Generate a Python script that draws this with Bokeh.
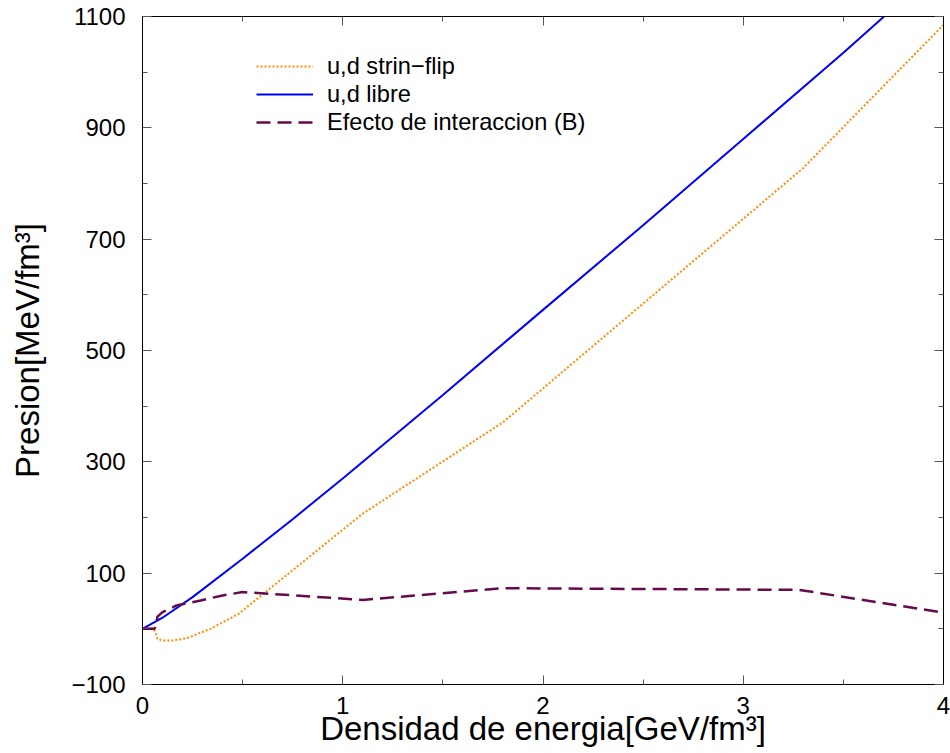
from bokeh.embed import file_html
from bokeh.models import FixedTicker, Legend, LegendItem, LinearAxis, Range1d
from bokeh.plotting import figure
from bokeh.resources import INLINE

# Equation of state: energy density [GeV/fm^3] vs pressure [MeV/fm^3]
flip_e = [0.0, 0.05, 0.06, 0.075, 0.10, 0.15, 0.22, 0.34, 0.48, 1.10, 1.80, 3.30, 4.00]
flip_p = [0.0, 1.0, -3.0, -18.0, -21.0, -21.0, -17.0, 0.0, 27.0, 207.0, 371.0, 828.0, 1085.0]

free_e = [0.0, 0.10, 0.25, 0.50, 0.75, 1.00, 1.50, 2.00, 2.50, 3.00, 3.50, 3.75]
free_p = [0.0, 20.0, 57.0, 126.0, 197.0, 270.0, 420.0, 573.0, 725.0, 880.0, 1035.0, 1115.0]

inter_e = [0.0, 0.06, 0.065, 0.075, 0.10, 0.17, 0.29, 0.40, 0.50, 1.10, 1.80, 3.28, 4.00]
inter_p = [0.0, 0.0, 5.0, 22.0, 30.0, 42.0, 51.0, 60.0, 66.0, 52.0, 73.0, 70.0, 29.0]

x_major = [0, 1, 2, 3, 4]
x_minor = [0.5, 1.5, 2.5, 3.5]
y_major = [-100, 100, 300, 500, 700, 900, 1100]
y_minor = [0, 200, 400, 600, 800, 1000]

names = ["u,d strin\u2212flip", "u,d libre", "Efecto de interaccion (B)"]
x_title = "Densidad de energia[GeV/fm\u00b3]"
y_title = "Presion[MeV/fm\u00b3]"

FONT = "Liberation Sans"

p = figure(
    width=950, height=753,
    x_range=Range1d(0, 4), y_range=Range1d(-100, 1100),
    output_backend="svg", toolbar_location=None,
    min_border_left=142, min_border_right=7,
    min_border_top=16, min_border_bottom=69,
)
p.grid.visible = False
p.outline_line_color = "black"
p.outline_line_width = 1
p.background_fill_color = "white"
p.border_fill_color = "white"


def style_axis(ax, ticks, minor, labelled):
    ax.ticker = FixedTicker(ticks=ticks, minor_ticks=minor)
    ax.major_tick_in = 9
    ax.major_tick_out = 0
    ax.minor_tick_in = 5
    ax.minor_tick_out = 0
    ax.major_tick_line_color = "#555555"
    ax.minor_tick_line_color = "#555555"
    ax.axis_line_color = "black"
    ax.major_label_text_font = FONT
    if labelled:
        ax.major_label_text_color = "black"
        ax.major_label_text_font_size = "24px"
        ax.axis_label_text_font = FONT
        ax.axis_label_text_font_size = "33px"
        ax.axis_label_text_font_style = "normal"
        ax.axis_label_text_color = "black"
    else:
        ax.major_label_text_color = None
        ax.major_label_text_font_size = "0px"
        ax.major_label_standoff = 0


xa = p.xaxis[0]
style_axis(xa, x_major, x_minor, True)
xa.major_label_standoff = 12
xa.axis_label = x_title
xa.axis_label_standoff = -7

ya = p.yaxis[0]
style_axis(ya, y_major, y_minor, True)
ya.major_label_standoff = 17
ya.axis_label = y_title
ya.axis_label_standoff = 22

top = LinearAxis()
style_axis(top, x_major, x_minor, False)
p.add_layout(top, "above")
right = LinearAxis()
style_axis(right, y_major, y_minor, False)
p.add_layout(right, "right")

r_flip = p.line(flip_e, flip_p, line_color="#ff8c00", line_width=2, line_dash="2 2")
r_free = p.line(free_e, free_p, line_color="#0000ff", line_width=2)
r_inter = p.line(inter_e, inter_p, line_color="#650a4c", line_width=2.5, line_dash="14 7")

legend = Legend(
    items=[
        LegendItem(label=names[0], renderers=[r_flip]),
        LegendItem(label=names[1], renderers=[r_free]),
        LegendItem(label=names[2], renderers=[r_inter]),
    ],
    location=(114, 548),
    padding=0, margin=0, spacing=0,
    glyph_width=57, glyph_height=28, label_height=28, label_standoff=14,
    border_line_color=None, background_fill_alpha=0,
    label_text_font=FONT, label_text_font_size="23.6px", label_text_color="black",
)
p.add_layout(legend, "center")

open("out.html", "w").write(file_html(p, INLINE))
